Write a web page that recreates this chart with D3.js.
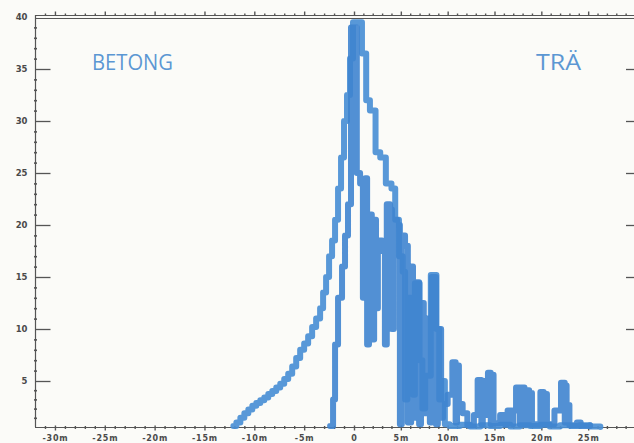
<!DOCTYPE html>
<html>
<head>
<meta charset="utf-8">
<script src="https://cdn.jsdelivr.net/npm/d3@7"></script>
<style>
  html, body { margin: 0; padding: 0; background: #fbfbf8; }
  svg { display: block; }
  .axis text { font-family: "DejaVu Sans", sans-serif; font-weight: bold; fill: #4a4a4a; }
  .axis line, .axis path { stroke: #555; }
</style>
</head>
<body>
<svg id="chart" width="634" height="443"></svg>
<script>
// Distance along the line (m) and count per step, concrete series
const betongX = [-12.1, -11.8, -11.4, -11.0, -10.6, -10.2, -9.8, -9.4, -9.0, -8.6, -8.2, -7.8, -7.4, -7.0,
  -6.6, -6.2, -5.8, -5.4, -5.0, -4.6, -4.2, -3.8, -3.4, -3.1, -2.8, -2.5, -2.2, -1.9, -1.6, -1.3, -1.0,
  -0.7, -0.4, -0.1, 0.2, 0.85, 1.3, 1.7, 2.3, 2.8, 3.4, 4.0, 4.4, 4.8, 5.2, 5.45, 5.7, 6.1, 6.3, 6.5,
  7.0, 7.3, 7.6, 8.2, 8.8, 9.1, 9.3, 9.7, 10.2, 11.3, 12.4, 13.5, 14.5, 15.6, 16.7, 17.7, 18.8, 19.9,
  20.9, 22.0, 23.1, 24.1, 25.2, 26.3];
const betongY = [0.1, 0.5, 1.0, 1.5, 1.9, 2.3, 2.6, 2.9, 3.2, 3.6, 3.9, 4.3, 4.7, 5.2,
  5.7, 6.4, 7.2, 8.0, 8.6, 9.3, 10.2, 11.0, 12.0, 13.5, 15.0, 17.0, 18.5, 20.5, 23.5, 26.5, 30.0,
  32.5, 36.0, 39.5, 39.5, 36.5, 32.0, 31.0, 27.0, 26.5, 24.0, 23.5, 20.5, 17.0, 15.5, 3.0, 13.0, 11.0, 3.5, 14.4,
  7.0, 2.0, 5.5, 15.2, 10.0, 3.0, 5.0, 0.3, 0.1, 0.25, 0.05, 0.2, 0.1, 0.25, 0.05, 0.2, 0.1, 0.25,
  0.05, 0.2, 0.1, 0.2, 0.05, 0.0];

// Wooden series
const traX = [-2.4, -2.1, -1.9, -1.6, -1.2, -0.9, -0.6, -0.3, 0.3, 0.65, 0.95, 1.2, 1.4, 1.6, 1.9, 2.15,
  2.35, 2.55, 3.0, 3.3, 3.5, 3.85, 4.05, 4.25, 4.6, 4.9, 5.1, 5.45, 5.75, 6.1, 6.3, 6.6, 6.95, 7.15,
  7.45, 7.8, 8.1, 8.3, 8.75, 8.95, 9.3, 9.5, 10.0, 10.5, 10.85, 11.0, 11.2, 11.6, 12.1, 12.8, 13.2,
  13.6, 13.75, 14.0, 14.3, 14.6, 14.7, 14.9, 15.6, 16.1, 16.4, 16.9, 17.0, 17.3, 17.7, 17.85, 18.2,
  18.3, 18.7, 18.8, 19.0, 19.9, 20.25, 20.35, 20.6, 21.4, 22.1, 22.5, 22.6, 22.7, 23.0, 23.8, 24.2, 25.2];
const traY = [0.1, 3.0, 8.5, 13.0, 16.0, 19.0, 22.0, 39.0, 25.0, 24.0, 13.0, 24.5, 8.5, 21.0, 9.0, 20.5,
  12.0, 18.5, 17.5, 8.5, 22.0, 21.5, 10.0, 20.5, 20.0, 0.3, 19.0, 18.0, 0.5, 16.0, 1.0, 14.5, 0.3, 12.5,
  1.5, 11.0, 0.5, 15.0, 0.3, 10.0, 1.0, 2.5, 3.5, 6.8, 0.5, 6.5, 2.5, 1.5, 0.2, 1.3, 5.1,
  0.3, 5.0, 1.3, 5.8, 0.3, 5.6, 0.4, 1.3, 0.3, 1.8, 0.3, 1.8, 4.3, 0.3, 4.3, 0.3,
  4.0, 0.3, 3.7, 0.3, 3.8, 0.3, 3.6, 0.3, 1.8, 4.8, 0.5, 4.5, 2.4, 0.2, 0.5, 0.1, 0.2];

const xTicks = [-30, -25, -20, -15, -10, -5, 0, 5, 10, 15, 20, 25];
const xTickLabels = ["-30m", "-25m", "-20m", "-15m", "-10m", "-5m", "0", "5m", "10m", "15m", "20m", "25m"];
const yTicks = [5, 10, 15, 20, 25, 30, 35, 40];
const seriesNames = ["BETONG", "TRÄ"];

const svg = d3.select("#chart");
const W = 634, H = 443;

const x = d3.scaleLinear().domain([-32, 0, 30]).range([35, 354, 635]);
const y = d3.scaleLinear().domain([0, 5, 40]).range([427, 381, 17]);

// frame lines
const frame = svg.append("g").attr("stroke", "#555").attr("fill", "none");
frame.append("line").attr("x1", 35).attr("x2", W).attr("y1", 15.5).attr("y2", 15.5).attr("stroke-width", 1);
frame.append("line").attr("x1", 35).attr("x2", W).attr("y1", 18.5).attr("y2", 18.5).attr("stroke-width", 1);
frame.append("line").attr("x1", 35.5).attr("x2", 35.5).attr("y1", 15).attr("y2", 427).attr("stroke-width", 1.2);
frame.append("line").attr("x1", 35).attr("x2", W).attr("y1", 427.5).attr("y2", 427.5).attr("stroke-width", 1.2);

// minor tick values
const minorX = d3.range(-31, 30).filter(d => d % 5 !== 0);
const minorY = d3.range(1, 40).filter(d => d % 5 !== 0);

// left axis: major ticks pointing inward, labels on the outside
const leftAxis = svg.append("g").attr("class", "axis").attr("transform", "translate(35.5,0)")
  .call(d3.axisLeft(y).tickValues(yTicks).tickSize(-15).tickPadding(8).tickFormat(d3.format("d")));
leftAxis.select(".domain").remove();
leftAxis.selectAll(".tick line").attr("stroke-width", 1.3).filter(d => d === 40).remove();
leftAxis.selectAll("text").attr("font-size", 8.5);

const leftMinor = svg.append("g").attr("class", "axis").attr("transform", "translate(35.5,0)")
  .call(d3.axisLeft(y).tickValues(minorY).tickSize(2).tickFormat(""));
leftMinor.select(".domain").remove();
leftMinor.selectAll(".tick line").attr("stroke-width", 1.6).attr("x2", 1.5).attr("x1", -1.5);

// right edge ticks
const rightAxis = svg.append("g").attr("class", "axis").attr("transform", `translate(${W},0)`)
  .call(d3.axisRight(y).tickValues(yTicks.slice(0, -1)).tickSize(-8).tickFormat(""));
rightAxis.select(".domain").remove();
rightAxis.selectAll(".tick line").attr("stroke-width", 1.3);

// top ticks
const topMinor = svg.append("g").attr("class", "axis").attr("transform", "translate(0,15.5)")
  .call(d3.axisTop(x).tickValues(minorX).tickSize(2).tickFormat(""));
topMinor.select(".domain").remove();
topMinor.selectAll(".tick line").attr("stroke-width", 1.4);
const topMajor = svg.append("g").attr("class", "axis").attr("transform", "translate(0,15.5)")
  .call(d3.axisTop(x).tickValues(d3.range(-30, 30, 5)).tickSize(4).tickFormat(""));
topMajor.select(".domain").remove();
topMajor.selectAll(".tick line").attr("stroke-width", 1.4);

// bottom axis
const bottomMinor = svg.append("g").attr("class", "axis").attr("transform", "translate(0,427.5)")
  .call(d3.axisBottom(x).tickValues(minorX).tickSize(2).tickFormat(""));
bottomMinor.select(".domain").remove();
bottomMinor.selectAll(".tick line").attr("stroke-width", 1.4).attr("y1", -1.5).attr("y2", 1.5);

const bottomAxis = svg.append("g").attr("class", "axis").attr("transform", "translate(0,427.5)")
  .call(d3.axisBottom(x).tickValues(xTicks).tickSize(3).tickPadding(5)
    .tickFormat((d, i) => xTickLabels[i]));
bottomAxis.select(".domain").remove();
bottomAxis.selectAll(".tick line").attr("stroke-width", 1.4).attr("y1", -2);
bottomAxis.selectAll("text").attr("font-size", 8).attr("letter-spacing", 0.8);

// series as step traces
const line = d3.line()
  .x(d => x(d[0]))
  .y(d => y(d[1]))
  .curve(d3.curveStepAfter);

const betong = betongX.map((v, i) => [v, betongY[i]]);
const tra = traX.map((v, i) => [v, traY[i]]);

const traces = svg.append("g").attr("fill", "none").attr("stroke-linejoin", "round").attr("stroke-linecap", "round");
traces.append("path").datum(betong).attr("d", line)
  .attr("stroke", "#4a8fd5").attr("stroke-width", 6).attr("stroke-opacity", 0.92);
traces.append("path").datum(tra).attr("d", line)
  .attr("stroke", "#3f84cf").attr("stroke-width", 6).attr("stroke-opacity", 0.9);

// series names
const names = svg.append("g").attr("fill", "#5b97d3")
  .attr("font-family", "'Open Sans', 'DejaVu Sans', sans-serif").attr("font-weight", 400);
names.append("text").attr("x", 92).attr("y", 70).attr("font-size", 22)
  .attr("textLength", 81).attr("lengthAdjust", "spacingAndGlyphs").text(seriesNames[0]);
names.append("text").attr("x", 536).attr("y", 70).attr("font-size", 21)
  .attr("textLength", 45).attr("lengthAdjust", "spacingAndGlyphs").text(seriesNames[1]);
</script>
</body>
</html>
